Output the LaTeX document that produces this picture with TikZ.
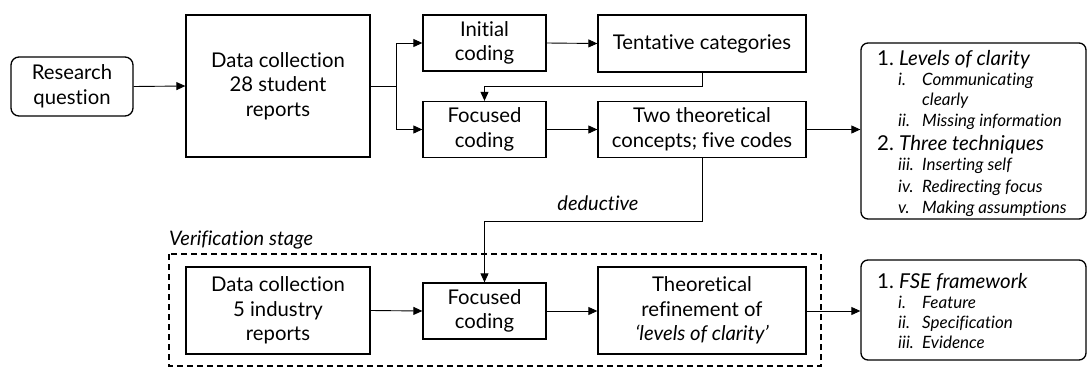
\documentclass[tikz,border=0pt]{standalone}
\usepackage{fontspec}
\setmainfont{Lato}[Ligatures={TeX,NoCommon}]
\usetikzlibrary{arrows.meta}

\tikzset{
  box/.style={draw, line width=1.3pt, align=center, inner sep=0pt,
    font=\fontsize{20.3}{24.5}\selectfont},
  outbox/.style={draw, line width=1.3pt, rounded corners=7pt, inner sep=0pt},
  conn/.style={line width=0.9pt},
  arr/.style={conn, -{Triangle[length=9pt,width=8pt]}},
  head/.style={anchor=base west, inner sep=0pt, font=\fontsize{20.5}{24}\selectfont\itshape},
  item/.style={anchor=base west, inner sep=0pt, font=\fontsize{17}{20}\selectfont\itshape},
  lbl/.style={inner sep=0pt, font=\fontsize{20}{24}\selectfont\itshape},
}

\begin{document}
\begin{tikzpicture}[x=1pt, y=-1pt]
\useasboundingbox (0,0) rectangle (1088,367);

% exploratory stage
\node[box, rounded corners=8pt, minimum width=122pt, minimum height=59pt] (rq) at (72,86.5) {Research\\question};
\node[box, minimum width=184pt, minimum height=142pt] (dc1) at (278,86) {Data collection\\28 student\\reports};
\node[box, minimum width=123pt, minimum height=56pt] (ic) at (484.5,43) {Initial\\coding};
\node[box, minimum width=208pt, minimum height=57pt] (tc) at (702,43.5) {Tentative categories};
\node[box, minimum width=123pt, minimum height=56pt] (fc1) at (484.5,129.5) {Focused\\coding};
\node[box, minimum width=208pt, minimum height=56pt] (ttc) at (702,129.5) {Two theoretical\\concepts; five codes};
\node[outbox, minimum width=225pt, minimum height=176pt] (res1) at (973.5,131) {};

% findings of the first stage
\node[head] (h1) at (877,65) {\upshape 1.};
\node[head] (h1t) at (899,65) {Levels of clarity};
\node[item] (n1) at (898,85) {i.};
\node[item] (t1) at (922,85) {Communicating};
\node[item] (t1b) at (922,105.5) {clearly};
\node[item] (n2) at (898,126) {ii.};
\node[item] (t2) at (922,126) {Missing information};
\node[head] (h2) at (877,150) {\upshape 2.};
\node[head] (h2t) at (899,150) {Three techniques};
\node[item] (n3) at (898,170.5) {iii.};
\node[item] (t3) at (922,170.5) {Inserting self};
\node[item] (n4) at (898,192) {iv.};
\node[item] (t4) at (922,192) {Redirecting focus};
\node[item] (n5) at (898,213) {v.};
\node[item] (t5) at (922,213) {Making assumptions};

% verification stage
\node[lbl, anchor=west] (vs) at (169,240) {Verification stage};
\draw[line width=1.3pt, dash pattern=on 6pt off 4pt] (169,254) rectangle (821,366);
\node[box, minimum width=184pt, minimum height=87pt] (dc2) at (278,310.5) {Data collection\\5 industry\\reports};
\node[box, minimum width=123pt, minimum height=56pt] (fc2) at (484.5,311) {Focused\\coding};
\node[box, minimum width=208pt, minimum height=87pt] (tr) at (702,310.5) {Theoretical\\refinement of\\\textit{`levels of clarity'}};
\node[outbox, minimum width=225pt, minimum height=100pt] (res2) at (973.5,310) {};

\node[head] (h3) at (877,288) {\upshape 1.};
\node[head] (h3t) at (899,288) {FSE framework};
\node[item] (m1) at (898,308) {i.};
\node[item] (u1) at (922,308) {Feature};
\node[item] (m2) at (898,328) {ii.};
\node[item] (u2) at (922,328) {Specification};
\node[item] (m3) at (898,348) {iii.};
\node[item] (u3) at (922,348) {Evidence};

% connectors
\coordinate (split) at (396,86);
\coordinate (j1) at (484.5,86);
\coordinate (j2) at (484.5,221);
\draw[arr] (rq.east) -- (dc1.west);
\draw[conn] (dc1.east) -- (split);
\draw[arr] (split) |- (ic.west);
\draw[arr] (split) |- (fc1.west);
\draw[arr] (ic.east) -- (tc.west);
\draw[arr] (tc.south) |- (j1) -- (fc1.north);
\draw[arr] (fc1.east) -- (ttc.west);
\draw[arr] (ttc.east) -- (res1.west |- ttc.east);
\draw[arr] (ttc.south) |- (j2) -- (fc2.north);
\node[lbl] (ded) at (598,203) {deductive};
\draw[arr] (dc2.east) -- (fc2.west);
\draw[arr] (fc2.east) -- (tr.west |- fc2.east);
\draw[arr] (tr.east |- fc2.east) -- (res2.west |- fc2.east);
\end{tikzpicture}
\end{document}
